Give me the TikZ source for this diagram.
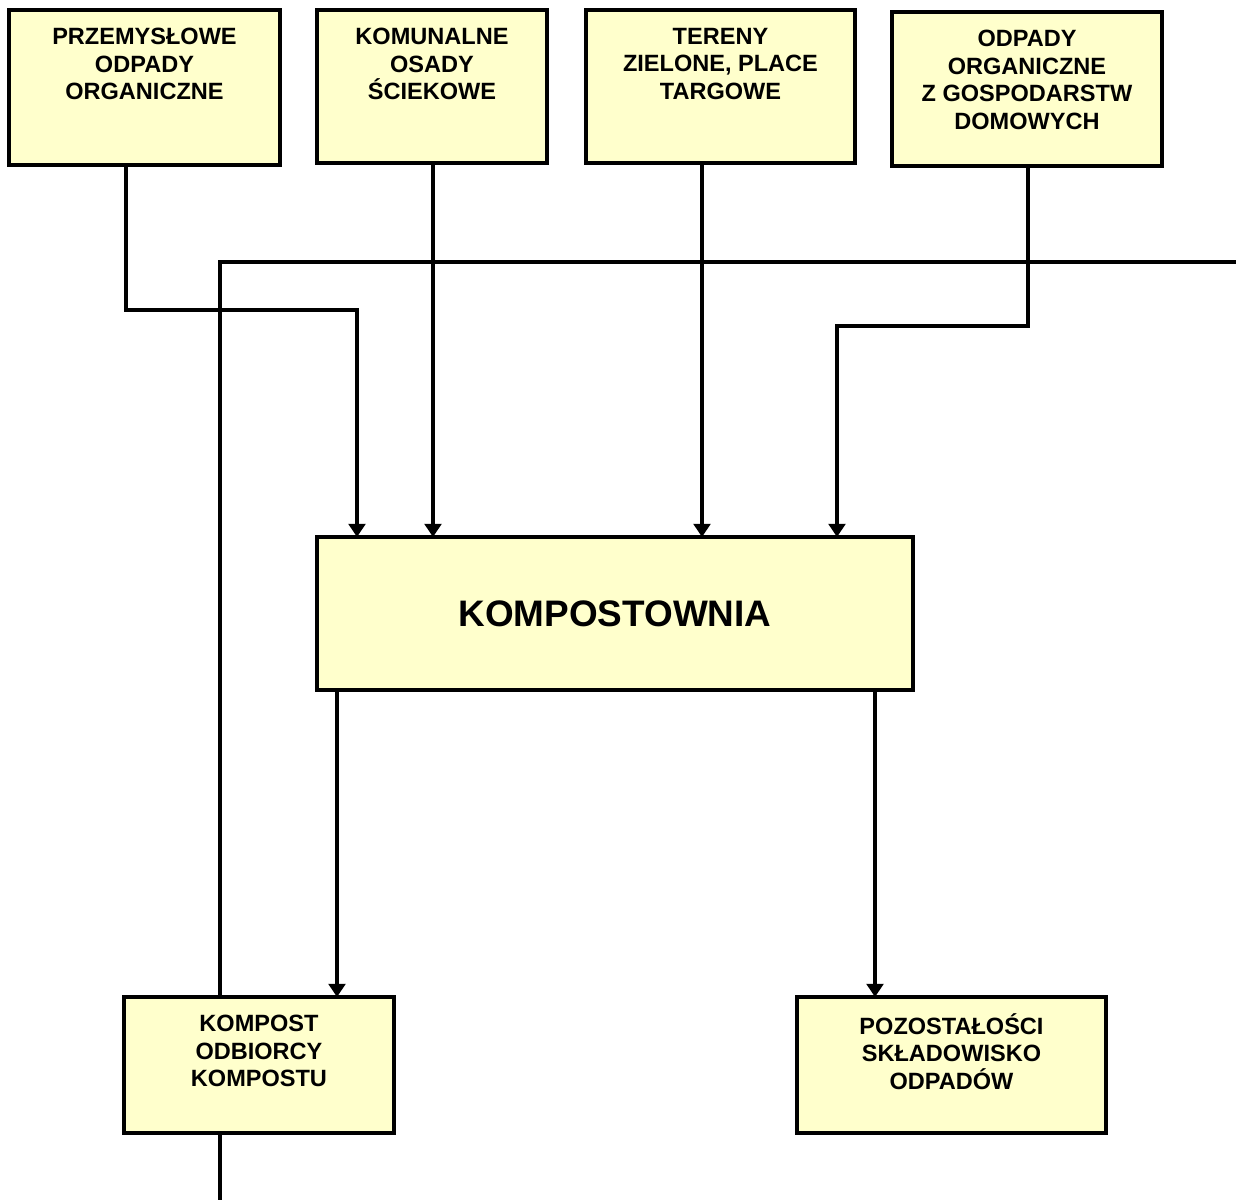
\documentclass[tikz,border=0pt]{standalone}
\usepackage{fontspec}
\setmainfont{Liberation Sans}
\usetikzlibrary{arrows.meta}

\definecolor{boxfill}{HTML}{FFFFCC}
\tikzset{
  box/.style={draw, line width=2.3pt, fill=boxfill, anchor=north west,
              inner sep=0pt, outer sep=0pt},
  boxtext/.style={anchor=north, align=center, inner sep=0pt,
                  font=\bfseries\fontsize{13.4}{15.6}\selectfont},
  flow/.style={line width=2.3pt, -{Triangle[width=9.5pt,length=7.5pt]}},
  plain/.style={line width=2.3pt},
}

\begin{document}
\begin{tikzpicture}[x=0.02cm,y=-0.02cm]
    \useasboundingbox (0,0) rectangle (1236,1200);
    % source boxes
    \node[box, minimum width=5.42cm, minimum height=3.10cm] (przem) at (9,10) {};
    \node[box, minimum width=4.60cm, minimum height=3.06cm] (komun) at (317,10) {};
    \node[box, minimum width=5.38cm, minimum height=3.06cm] (tereny) at (586,10) {};
    \node[box, minimum width=5.40cm, minimum height=3.08cm] (domowe) at (892,12) {};
    \node[boxtext] (przemtxt) at ([yshift=-0.36cm]przem.north) {PRZEMYSŁOWE\\ODPADY\\ORGANICZNE};
    \node[boxtext] (komuntxt) at ([yshift=-0.36cm]komun.north) {KOMUNALNE\\OSADY\\ŚCIEKOWE};
    \node[boxtext] (terenytxt) at ([yshift=-0.36cm]tereny.north) {TERENY\\ZIELONE, PLACE\\TARGOWE};
    \node[boxtext] (domowetxt) at ([yshift=-0.36cm]domowe.north) {ODPADY\\ORGANICZNE\\Z GOSPODARSTW\\DOMOWYCH};
    % main box
    \node[box, minimum width=11.92cm, minimum height=3.06cm,
          font=\bfseries\fontsize{21}{25}\selectfont] (kompostownia) at (317,537) {KOMPOSTOWNIA};
    % output boxes
    \node[box, minimum width=5.40cm, minimum height=2.72cm] (kompost) at (124,997) {};
    \node[box, minimum width=6.18cm, minimum height=2.72cm] (reszta) at (797,997) {};
    \node[boxtext] (komposttxt) at ([yshift=-0.36cm]kompost.north) {KOMPOST\\ODBIORCY\\KOMPOSTU};
    \node[boxtext] (resztatxt) at ([yshift=-0.32cm]reszta.north) {POZOSTAŁOŚCI\\SKŁADOWISKO\\ODPADÓW};

    % bends of the connectors
    \coordinate (p1) at (126,310);
    \coordinate (p2) at (357,310);
    \coordinate (k1) at (433,0);
    \coordinate (t1) at (702,0);
    \coordinate (d1) at (1028,326);
    \coordinate (d2) at (837,326);
    \coordinate (o1) at (337,0);
    \coordinate (o2) at (875,0);
    \coordinate (r1) at (220,262);
    \coordinate (r2) at (1236,262);
    \coordinate (r3) at (220,1200);

    \draw[flow] (przem.south -| p1) -- (p1) -- (p2) -- (kompostownia.north -| p2);
    \draw[flow] (komun.south -| k1) -- (kompostownia.north -| k1);
    \draw[flow] (tereny.south -| t1) -- (kompostownia.north -| t1);
    \draw[flow] (domowe.south -| d1) -- (d1) -- (d2) -- (kompostownia.north -| d2);
    \draw[flow] (kompostownia.south -| o1) -- (kompost.north -| o1);
    \draw[flow] (kompostownia.south -| o2) -- (reszta.north -| o2);
    \draw[plain] (kompost.north -| r1) -- (r1) -- (r2);
    \draw[plain] (kompost.south -| r3) -- (r3);
\end{tikzpicture}
\end{document}
